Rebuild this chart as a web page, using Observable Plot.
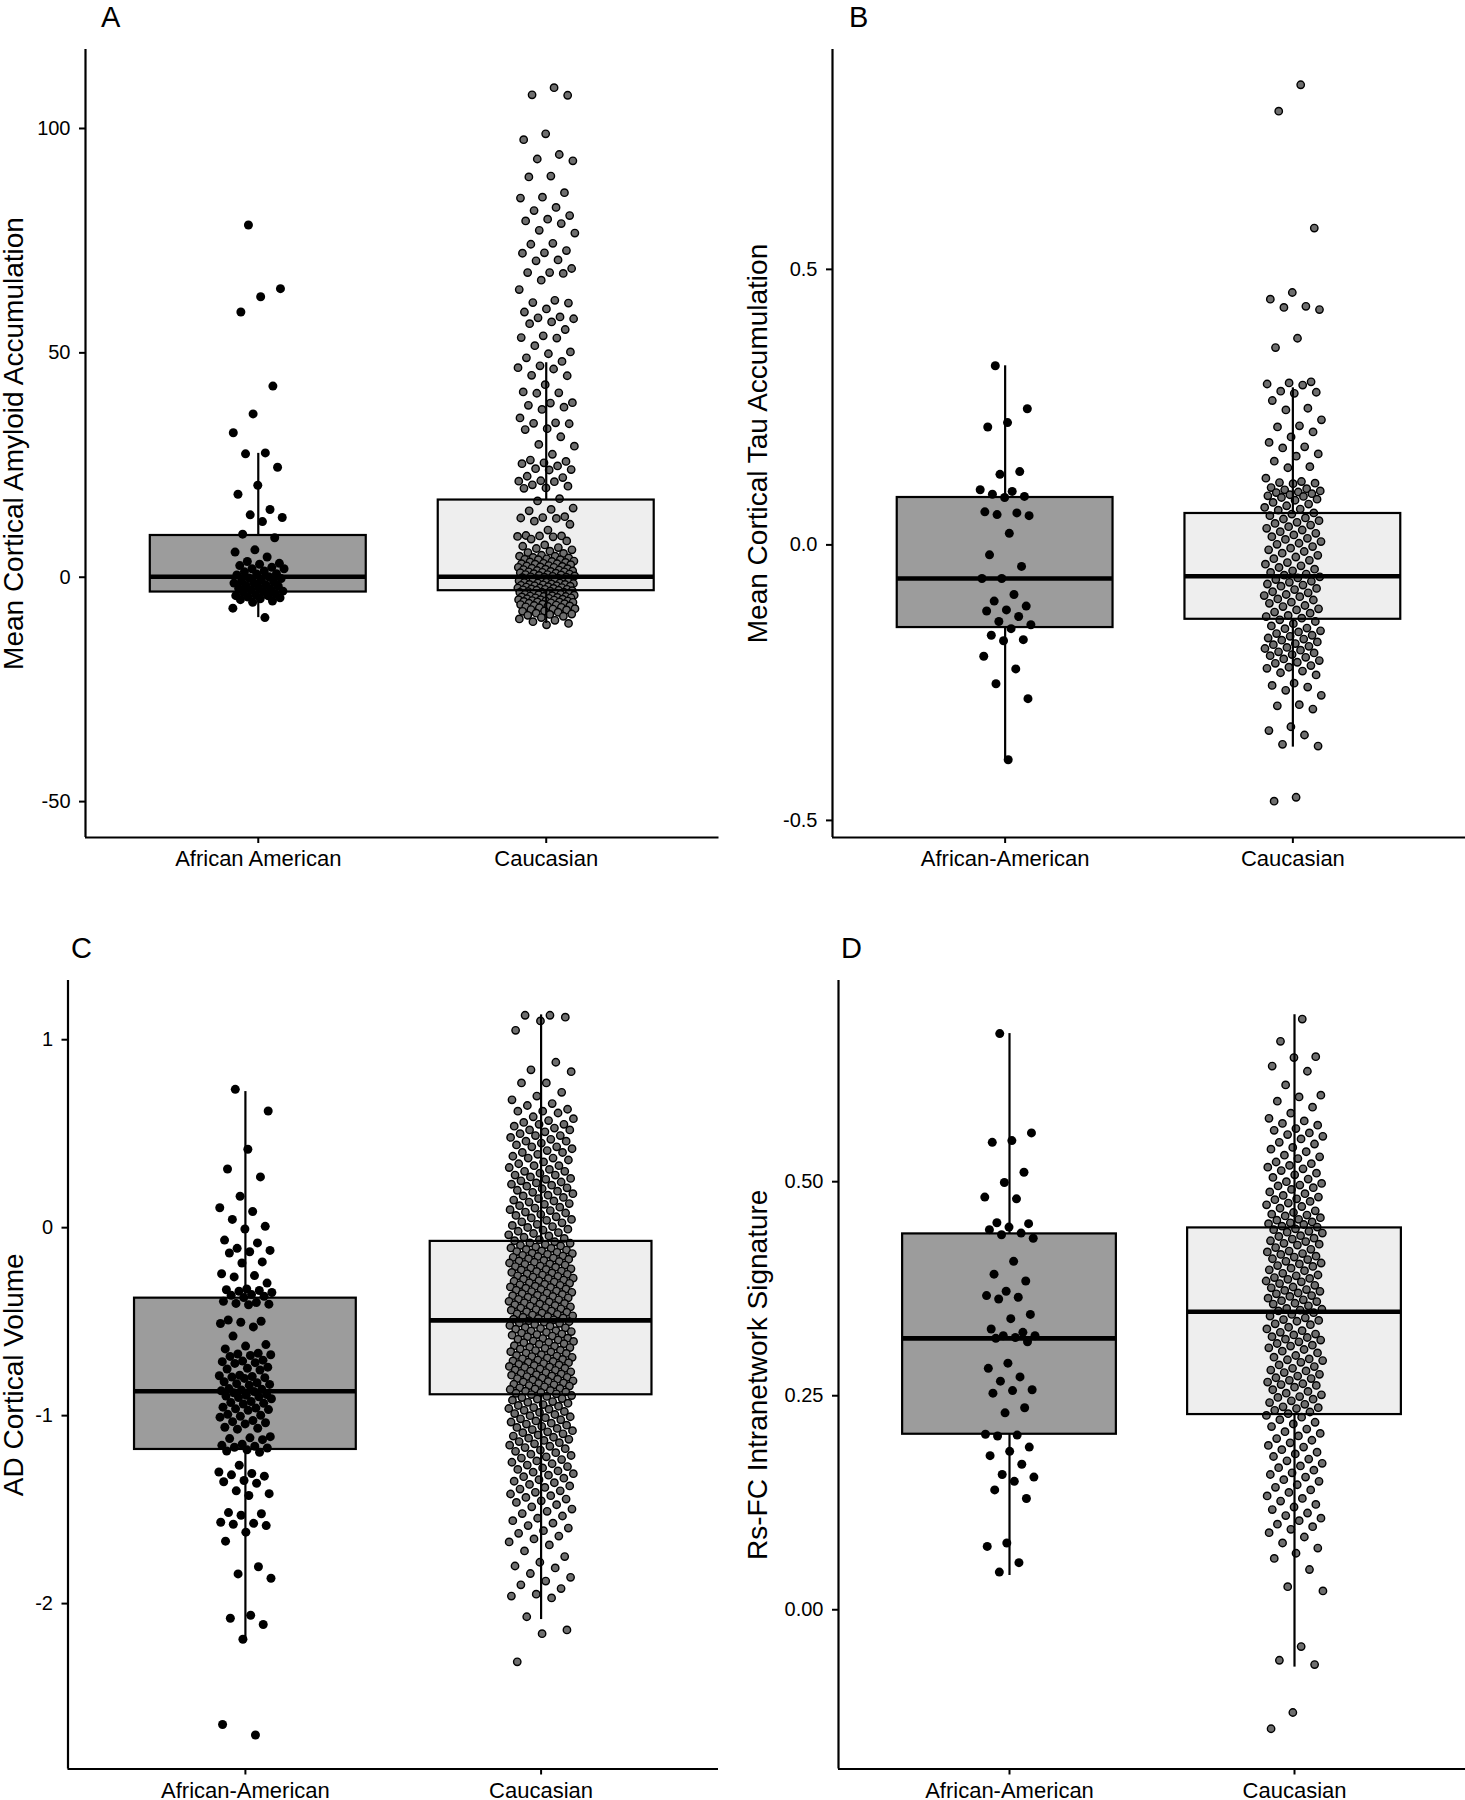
<!DOCTYPE html>
<html>
<head>
<meta charset="utf-8">
<script src="https://cdn.jsdelivr.net/npm/d3@7"></script>
<script src="https://cdn.jsdelivr.net/npm/@observablehq/plot@0.6"></script>
<style>
html, body { margin: 0; padding: 0; background: #fff; }
body { width: 1465px; height: 1800px; position: relative; overflow: hidden; font-family: "Liberation Sans", Arial, Helvetica, sans-serif; }
.panel { position: absolute; }
.letter { position: absolute; font-size: 29px; line-height: 1; color: #000; }
</style>
</head>
<body>
<script>
// ---------------- DATA ----------------
const groups = [1, 2];
const labelsA = ["African American", "Caucasian"];
const labelsBCD = ["African-American", "Caucasian"];
const yTitles = ["Mean Cortical Amyloid Accumulation", "Mean Cortical Tau Accumulation", "AD Cortical Volume", "Rs-FC Intranetwork Signature"];
const panelLetters = ["A", "B", "C", "D"];
const ticksA = [-50, 0, 50, 100];
const ticksB = [-0.5, 0, 0.5];
const ticksC = [-2, -1, 0, 1];
const ticksD = [0, 0.25, 0.5];

// box stats: [lower whisker, Q1, median, Q3, upper whisker]
const amyloidStatsAA = [-9.0, -3.3, 0.1, 9.3, 27.6];
const amyloidStatsCA = [-10.3, -3.0, 0.1, 17.2, 47.8];
const tauStatsAA = [-0.390, -0.150, -0.061, 0.086, 0.325];
const tauStatsCA = [-0.367, -0.135, -0.057, 0.057, 0.285];
const volumeStatsAA = [-2.19, -1.18, -0.87, -0.375, 0.724];
const volumeStatsCA = [-2.085, -0.889, -0.493, -0.073, 1.132];
const fcStatsAA = [0.040, 0.205, 0.317, 0.439, 0.673];
const fcStatsCA = [-0.067, 0.228, 0.348, 0.446, 0.695];

const amyloidAA = [78.5,64.3,62.5,59.1,42.6,36.4,32.2,27.7,27.5,24.5,20.5,18.5,15.1,13.9,13.3,12.4,9.6,8.8,6.1,5.6,4.5,3.5,3.1,2.9,2.6,2.2,1.9,1.9,1.4,1.2,0.8,0.7,0.5,0.1,-0.2,-0.3,-0.6,-0.9,-1.0,-1.2,-1.3,-1.7,-1.9,-2.0,-2.2,-2.5,-2.7,-2.8,-3.1,-3.2,-3.4,-3.7,-3.9,-4.1,-4.1,-4.4,-4.6,-4.8,-5.0,-5.3,-5.6,-6.9,-9.0];

const amyloidCA = [109.1,107.5,107.4,98.8,97.5,94.2,93.2,92.8,89.4,89.2,85.7,84.7,84.5,82.4,81.7,80.6,79.8,79.4,78.8,77.3,76.7,74.4,74.2,72.8,72.3,72.2,70.7,70.5,68.8,67.9,67.9,67.7,66.2,64.1,61.7,61.2,61.1,59.8,59.1,58.0,57.8,57.6,56.9,56.5,55.2,53.8,53.4,53.3,51.6,50.2,49.8,48.9,48.1,47.1,46.7,46.4,45.0,44.9,42.9,41.3,41.1,41.0,38.9,38.8,38.3,37.9,37.4,35.5,34.4,34.3,34.2,33.1,
32.9,31.3,29.6,29.2,27.4,26.1,25.8,25.5,25.3,24.8,24.2,24.0,23.9,22.5,22.2,21.5,21.4,21.3,20.6,20.3,19.9,19.8,17.5,17.0,15.4,15.1,14.8,13.5,13.3,13.2,13.1,12.5,11.8,10.5,9.3,9.2,9.2,9.1,9.0,8.5,8.1,7.2,6.9,6.6,6.4,6.1,5.8,5.5,5.3,
4.9,4.7,4.7,4.4,4.3,4.1,4.0,3.9,3.9,3.6,3.5,3.4,3.3,3.1,3.0,3.0,2.9,2.8,2.6,2.5,2.4,2.3,2.2,2.2,2.0,1.9,1.8,1.7,1.6,1.5,1.4,1.3,1.2,1.2,1.1,1.0,0.9,0.8,0.7,0.6,0.6,0.5,0.4,0.3,0.2,0.1,0.0,0.0,-0.1,-0.2,-0.3,-0.4,-0.4,-0.5,-0.6,-0.7,-0.8,-0.8,-0.9,-1.0,-1.1,-1.2,-1.3,-1.3,-1.4,-1.5,-1.6,-1.6,-1.7,-1.8,-1.9,-1.9,-2.0,-2.1,-2.2,-2.3,-2.4,-2.4,-2.5,-2.6,-2.7,-2.7,-2.8,-2.9,-2.9,-3.0,-3.1,-3.2,-3.3,-3.3,-3.4,-3.5,-3.6,-3.6,-3.7,-3.8,-3.8,-3.9,-4.0,-4.1,-4.2,-4.3,-4.3,-4.4,-4.5,-4.6,-4.6,-4.7,-4.8,-4.9,-5.0,-5.0,-5.1,-5.2,-5.3,-5.3,-5.4,-5.5,-5.5,-5.6,-5.7,-5.8,-5.9,-6.0,-6.1,-6.2,-6.3,-6.4,-6.5,-6.6,-6.7,-6.8,-7.0,-7.1,-7.2,-7.3,-7.5,-7.6,-7.8,-8.0,-8.2,-8.3,-8.5,-8.7,-9.0,-9.3,-9.6,-9.9,-10.3,-10.6];

const tauAA = [0.325,0.247,0.222,0.214,0.133,0.128,0.100,0.097,0.092,0.088,0.086,0.060,0.058,0.055,0.053,0.021,-0.018,-0.039,-0.061,-0.061,-0.090,-0.102,-0.111,-0.118,-0.120,-0.130,-0.139,-0.145,-0.152,-0.164,-0.172,-0.174,-0.202,-0.225,-0.252,-0.279,-0.390];

const tauCA = [0.835,0.787,0.575,0.458,0.446,0.433,0.431,0.427,0.375,0.358,0.296,0.294,0.292,0.290,0.279,0.277,0.275,0.262,0.248,0.245,0.227,0.216,0.214,0.205,0.196,0.186,0.178,0.176,0.165,0.161,0.152,0.142,0.140,0.121,0.115,0.113,0.112,0.111,0.104,0.102,0.100,0.098,0.096,0.095,0.093,0.091,0.089,0.088,
0.086,0.083,0.081,0.077,0.074,0.071,0.068,0.065,0.063,0.058,0.056,0.053,0.049,0.047,0.044,0.041,0.039,0.036,0.033,0.030,0.027,0.024,0.021,0.018,0.015,0.012,0.010,0.006,0.003,0.001,-0.003,-0.006,-0.009,-0.012,-0.015,-0.019,-0.022,-0.025,-0.028,-0.032,-0.035,-0.038,-0.041,-0.044,-0.047,-0.050,-0.053,-0.055,-0.058,-0.060,-0.063,-0.066,-0.068,-0.071,-0.073,-0.075,-0.079,-0.081,-0.085,-0.087,-0.090,-0.092,-0.094,-0.098,-0.100,-0.104,-0.106,-0.110,-0.112,-0.116,-0.118,-0.122,-0.124,-0.128,-0.130,-0.133,-0.136,-0.139,
-0.143,-0.147,-0.151,-0.152,-0.156,-0.158,-0.161,-0.164,-0.166,-0.169,-0.171,-0.173,-0.176,-0.179,-0.181,-0.184,-0.186,-0.188,-0.191,-0.194,-0.196,-0.199,-0.201,-0.204,-0.207,-0.210,-0.213,-0.215,-0.219,-0.222,-0.224,-0.229,-0.232,-0.236,-0.251,-0.255,-0.258,-0.264,-0.273,-0.290,-0.292,-0.298,-0.330,-0.337,-0.345,-0.362,-0.365,-0.458,-0.465];

const volumeAA = [0.736,0.621,0.417,0.312,0.270,0.167,0.106,0.086,0.044,0.007,-0.007,-0.066,-0.081,-0.110,-0.121,-0.128,-0.135,-0.182,-0.188,-0.245,-0.255,-0.262,-0.295,-0.326,-0.330,-0.334,-0.338,-0.345,-0.356,-0.360,-0.365,-0.372,-0.392,-0.398,-0.403,-0.407,-0.410,-0.491,-0.498,-0.503,-0.510,-0.528,-0.577,-0.622,-0.630,-0.645,-0.668,-0.672,-0.676,-0.680,-0.685,-0.705,-0.710,-0.713,-0.718,-0.722,-0.742,-0.748,-0.752,-0.757,-0.785,-0.788,-0.792,-0.795,-0.798,-0.802,-0.820,-0.825,-0.830,-0.834,-0.838,-0.856,-0.860,-0.864,-0.868,-0.872,-0.878,-0.888,-0.892,-0.896,-0.900,-0.904,-0.910,-0.925,-0.930,-0.934,-0.938,-0.955,-0.960,-0.964,-0.968,-0.972,-0.993,-0.998,-1.003,-1.008,-1.026,-1.032,-1.038,-1.044,-1.062,-1.067,-1.072,-1.112,-1.118,-1.122,-1.128,-1.152,-1.158,-1.163,-1.168,-1.172,-1.182,-1.188,-1.195,-1.264,-1.300,-1.308,-1.315,-1.322,-1.345,-1.352,-1.360,-1.400,-1.415,-1.425,-1.516,-1.522,-1.530,-1.567,-1.573,-1.578,-1.585,-1.620,-1.668,-1.804,-1.842,-1.865,-2.062,-2.078,-2.111,-2.190,-2.643,-2.699];

const volumeCA = [1.13,1.13,1.12,1.10,1.05,0.88,0.84,0.83,0.77,0.77,0.72,0.70,0.68,0.66,0.65,0.63,0.62,0.62,0.61,0.59,0.58,0.57,0.56,0.55,0.55,0.54,0.53,0.52,0.52,0.51,0.50,0.49,0.49,0.48,0.47,0.46,0.46,0.45,0.44,0.43,0.43,0.42,0.41,0.40,0.40,0.39,0.38,0.37,0.37,0.36,0.35,0.34,0.33,0.33,0.32,0.31,0.30,0.30,0.29,0.28,0.28,0.27,
0.262,0.257,0.249,0.243,0.238,0.231,0.226,0.221,0.212,0.207,0.199,0.194,0.188,0.181,0.173,0.169,0.161,0.155,0.147,0.142,0.136,0.128,0.124,0.117,0.109,0.104,0.096,0.091,0.083,0.078,0.071,0.065,0.058,0.052,0.044,0.039,0.031,0.026,0.018,0.012,0.006,0.001,-0.008,-0.013,-0.019,-0.026,-0.031,-0.038,-0.044,-0.051,-0.057,-0.064,-0.069,
-0.075,-0.081,-0.083,-0.090,-0.094,-0.097,-0.103,-0.108,-0.110,-0.116,-0.119,-0.124,-0.127,-0.131,-0.136,-0.138,-0.142,-0.147,-0.151,-0.153,-0.158,-0.162,-0.165,-0.168,-0.174,-0.177,-0.180,-0.184,-0.188,-0.193,-0.195,-0.199,-0.204,-0.207,-0.210,-0.215,-0.219,-0.222,-0.225,-0.231,-0.233,-0.238,-0.241,-0.245,-0.248,-0.252,-0.256,-0.259,-0.263,-0.268,-0.270,-0.274,-0.279,-0.282,-0.285,-0.289,-0.293,-0.296,-0.301,-0.304,-0.307,-0.311,-0.315,-0.318,-0.322,-0.326,-0.329,-0.333,-0.337,-0.340,-0.344,-0.348,-0.351,-0.355,-0.359,-0.362,-0.366,-0.370,-0.373,-0.377,-0.381,-0.384,-0.388,-0.392,-0.395,-0.399,-0.403,-0.406,-0.410,-0.414,-0.417,-0.421,-0.425,-0.428,-0.432,-0.436,-0.439,-0.443,-0.447,-0.450,-0.454,-0.458,-0.461,-0.465,-0.469,-0.472,-0.476,-0.480,-0.483,-0.487,-0.490,
-0.495,-0.500,-0.503,-0.507,-0.509,-0.515,-0.520,-0.524,-0.531,-0.533,-0.537,-0.540,-0.548,-0.550,-0.553,-0.557,-0.561,-0.566,-0.569,-0.572,-0.577,-0.580,-0.588,-0.590,-0.594,-0.597,-0.603,-0.605,-0.610,-0.612,-0.617,-0.620,-0.628,-0.631,-0.636,-0.638,-0.642,-0.645,-0.652,-0.654,-0.660,-0.661,-0.667,-0.669,-0.676,-0.680,-0.683,-0.686,-0.690,-0.693,-0.698,-0.701,-0.704,-0.709,-0.712,-0.716,-0.718,-0.723,-0.727,-0.730,-0.733,-0.738,-0.741,-0.744,-0.748,-0.752,-0.757,-0.759,-0.763,-0.767,-0.771,-0.775,-0.778,-0.782,-0.785,-0.789,-0.792,-0.796,-0.800,-0.803,-0.806,-0.810,-0.815,-0.818,-0.821,-0.826,-0.829,-0.833,-0.836,-0.840,-0.843,-0.847,-0.852,-0.855,-0.858,-0.861,-0.866,-0.870,-0.874,-0.877,-0.881,-0.884,-0.888,
-0.893,-0.898,-0.904,-0.909,-0.912,-0.918,-0.925,-0.929,-0.934,-0.941,-0.946,-0.950,-0.957,-0.962,-0.966,-0.972,-0.978,-0.983,-0.989,-0.994,-1.000,-1.006,-1.011,-1.017,-1.022,-1.028,-1.034,-1.040,-1.045,-1.051,-1.057,-1.063,-1.068,-1.074,-1.080,-1.086,-1.091,-1.097,-1.103,-1.109,-1.115,-1.120,-1.126,-1.132,-1.138,-1.144,-1.150,-1.157,-1.163,-1.170,-1.176,-1.183,-1.190,
-1.197,-1.205,-1.212,-1.219,-1.226,-1.234,-1.241,-1.248,-1.256,-1.263,-1.271,-1.278,-1.286,-1.294,-1.301,-1.309,-1.317,-1.325,-1.333,-1.341,-1.349,-1.357,-1.366,-1.374,-1.382,-1.391,-1.400,-1.408,-1.417,-1.426,-1.435,-1.444,-1.453,
-1.462,-1.474,-1.485,-1.497,-1.509,-1.521,-1.534,-1.546,-1.559,-1.572,-1.585,-1.598,-1.612,-1.626,-1.641,-1.656,-1.672,-1.688,
-1.72,-1.75,-1.78,-1.80,-1.81,-1.84,-1.86,-1.88,-1.90,-1.92,-1.95,-1.96,-1.97,-2.07,-2.14,-2.16,-2.31];

const fcAA = [0.673,0.557,0.548,0.546,0.511,0.499,0.482,0.480,0.452,0.451,0.447,0.444,0.440,0.438,0.434,0.407,0.392,0.384,0.372,0.367,0.365,0.363,0.345,0.340,0.328,0.324,0.320,0.320,0.318,0.317,0.313,0.288,0.282,0.272,0.267,0.257,0.256,0.253,0.236,0.230,0.205,0.204,0.203,0.190,0.185,0.180,0.170,0.158,0.155,0.150,0.140,0.130,0.078,0.074,0.055,0.044];

const fcCA = [0.690,0.664,0.646,0.645,0.635,0.629,0.613,0.601,0.599,0.594,0.587,0.580,0.574,0.571,0.568,0.566,0.562,0.560,0.557,0.555,0.553,0.550,0.546,0.544,0.540,0.538,0.535,0.531,0.529,0.527,0.523,0.521,0.519,0.517,0.515,0.513,0.510,0.508,0.505,0.503,0.500,0.498,0.496,0.495,0.493,0.491,0.488,0.486,0.484,0.482,0.480,0.479,0.477,0.475,0.473,0.471,0.469,0.466,0.464,0.462,0.461,0.460,0.458,0.456,0.455,0.453,0.452,0.451,0.450,0.448,0.447,
0.445,0.444,0.442,0.441,0.440,0.437,0.436,0.434,0.433,0.431,0.430,0.428,0.427,0.426,0.423,0.421,0.419,0.418,0.416,0.415,0.413,0.412,0.410,0.409,0.407,0.405,0.404,0.402,0.401,0.399,0.397,0.396,0.393,0.391,0.390,0.388,0.387,0.386,0.384,0.383,0.381,0.379,0.377,0.376,0.374,0.373,0.372,0.370,0.369,0.367,0.366,0.364,0.362,0.361,0.360,0.358,0.357,0.355,0.352,0.351,0.350,0.349,
0.347,0.345,0.343,0.341,0.339,0.338,0.337,0.334,0.333,0.330,0.328,0.326,0.324,0.322,0.321,0.319,0.318,0.316,0.315,0.313,0.311,0.309,0.308,0.306,0.304,0.302,0.300,0.297,0.295,0.293,0.292,0.291,0.289,0.286,0.284,0.282,0.280,0.279,0.277,0.275,0.273,0.271,0.270,0.268,0.266,0.264,0.263,0.262,0.260,0.257,0.255,0.253,0.251,0.249,0.248,0.246,0.244,0.242,0.240,0.237,0.236,0.235,0.233,0.231,0.229,
0.227,0.225,0.222,0.219,0.217,0.214,0.211,0.208,0.206,0.203,0.200,0.198,0.195,0.192,0.190,0.187,0.184,0.182,0.179,0.176,0.174,0.171,0.168,0.166,0.163,0.160,0.158,0.155,0.152,0.150,0.146,0.143,0.140,0.137,0.133,0.130,0.127,0.123,0.120,0.117,0.113,0.110,0.107,0.104,0.100,0.097,0.094,0.090,0.085,0.078,0.072,0.066,0.060,0.047,0.027,0.022,-0.043,-0.059,-0.064,-0.120,-0.139];

// ---------------- LAYOUT / STYLE ----------------
const FONT = '"Liberation Sans", Arial, Helvetica, sans-serif';
const AA_BOX = "#9c9c9c", CA_BOX = "#eeeeee", CA_DOT = "#6e6e6e";
const BW = 0.375;
const layouts = [
  {left: 0,   top: 0,   width: 730, height: 900, mL: 85,  mR: 11.5, mT: 49, mB: 63,   yDomain: [-58, 117.6],     titleDx: -71,   letterX: 101, letterY: 3,   jw: 0.1},
  {left: 732, top: 0,   width: 733, height: 900, mL: 100, mR: 0,    mT: 49, mB: 63,   yDomain: [-0.531, 0.899],  titleDx: -74,   letterX: 849, letterY: 3,   jw: 0.1},
  {left: 0,   top: 900, width: 730, height: 900, mL: 67.5,mR: 12,   mT: 80, mB: 31.5, yDomain: [-2.88, 1.315],   titleDx: -54,   letterX: 71,  letterY: 934, jw: 0.11},
  {left: 732, top: 900, width: 733, height: 900, mL: 106, mR: 0,    mT: 80, mB: 31.5, yDomain: [-0.186, 0.735],  titleDx: -80,   letterX: 841, letterY: 934, jw: 0.1}
];

function jit(i, w) { return (((i * 0.6180339887 + 0.31) % 1) * 2 - 1) * w; }

function makePanel(k, aa, ca, sAA, sCA, ticks, fmt, labels) {
  const L = layouts[k];
  const ptsAA = aa.map((v, i) => ({x: groups[0] + jit(i, 0.09), v}));
  const ptsCA = ca.map((v, i) => ({x: groups[1] + jit(i + 7, L.jw), v}));
  const boxes = [{g: groups[0], s: sAA}, {g: groups[1], s: sCA}];
  const rectOpts = {x1: d => d.g - BW, x2: d => d.g + BW, y1: d => d.s[1], y2: d => d.s[3]};
  const plot = Plot.plot({
    width: L.width, height: L.height,
    marginLeft: L.mL, marginRight: L.mR, marginTop: L.mT, marginBottom: L.mB,
    style: {fontFamily: FONT, background: "transparent", overflow: "visible", color: "#000"},
    x: {domain: [0.4, 2.6], axis: null},
    y: {domain: L.yDomain, axis: null},
    marks: [
      Plot.rect([boxes[0]], {...rectOpts, fill: AA_BOX}),
      Plot.rect([boxes[1]], {...rectOpts, fill: CA_BOX}),
      Plot.dot(ptsAA, {x: "x", y: "v", r: 4.5, fill: "#000", stroke: "none"}),
      Plot.dot(ptsCA, {x: "x", y: "v", r: 3.7, fill: CA_DOT, stroke: "#000", strokeWidth: 1.4}),
      Plot.ruleX(boxes, {x: "g", y1: d => d.s[0], y2: d => d.s[1], stroke: "#000", strokeWidth: 2.2}),
      Plot.ruleX(boxes, {x: "g", y1: d => d.s[3], y2: d => d.s[4], stroke: "#000", strokeWidth: 2.2}),
      Plot.rect(boxes, {...rectOpts, fill: "none", stroke: "#000", strokeWidth: 2.2}),
      Plot.ruleY(boxes, {y: d => d.s[2], x1: d => d.g - BW, x2: d => d.g + BW, stroke: "#000", strokeWidth: 4.6}),
      Plot.ruleX([0.4], {stroke: "#000", strokeWidth: 2.2}),
      Plot.ruleY([L.yDomain[0]], {stroke: "#000", strokeWidth: 2.2}),
      Plot.axisY(ticks, {tickFormat: fmt, tickSize: 6, tickPadding: 9, fontSize: 20, strokeWidth: 2, label: null}),
      Plot.axisX(groups, {tickFormat: i => labels[i - 1], tickSize: 6, tickPadding: 7, fontSize: 22, strokeWidth: 2, label: null}),
      Plot.text([yTitles[k]], {text: d => d, frameAnchor: "left", textAnchor: "middle", lineAnchor: "middle", dx: L.titleDx, rotate: -90, fontSize: 28, fill: "#000"})
    ]
  });
  const div = document.createElement("div");
  div.className = "panel";
  div.style.left = L.left + "px";
  div.style.top = L.top + "px";
  div.appendChild(plot);
  document.body.appendChild(div);
  const letter = document.createElement("div");
  letter.className = "letter";
  letter.style.left = L.letterX + "px";
  letter.style.top = L.letterY + "px";
  letter.textContent = panelLetters[k];
  document.body.appendChild(letter);
}

makePanel(0, amyloidAA, amyloidCA, amyloidStatsAA, amyloidStatsCA, ticksA, d => String(d), labelsA);
makePanel(1, tauAA, tauCA, tauStatsAA, tauStatsCA, ticksB, d => d.toFixed(1), labelsBCD);
makePanel(2, volumeAA, volumeCA, volumeStatsAA, volumeStatsCA, ticksC, d => String(d), labelsBCD);
makePanel(3, fcAA, fcCA, fcStatsAA, fcStatsCA, ticksD, d => d.toFixed(2), labelsBCD);
</script>
</body>
</html>
